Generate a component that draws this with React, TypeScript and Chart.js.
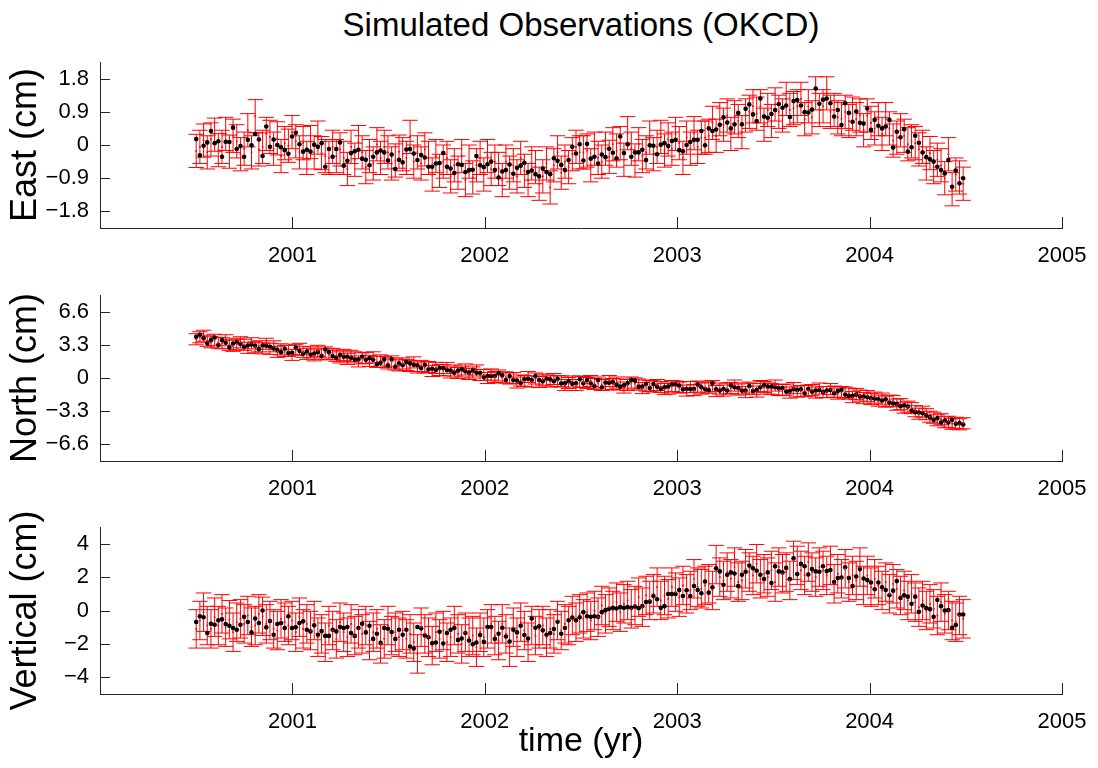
import React, { useEffect, useRef } from 'react';
import { Chart, registerables } from 'chart.js';

Chart.register(...registerables);

// ---- data ----
const startYear = 2000.5;
const weekInYears = 7 / 365.25;

const xTickYears = [2001, 2002, 2003, 2004, 2005];
const eastTicks = [-1.8, -0.9, 0, 0.9, 1.8];
const northTicks = [-6.6, -3.3, 0, 3.3, 6.6];
const vertTicks = [-4, -2, 0, 2, 4];

const eastSigma = 0.45;
const northSigma = 0.55;
const vertSigma = 1.15;

// black dots (observations)
const eastObs = [
  0.16, -0.28, -0.02, 0.07, 0.38, 0.05, 0.10, -0.32, 0.09, 0.08,
  0.47, -0.11, -0.03, -0.32, 0.14, -0.01, 0.30, 0.15, -0.30, 0.50,
  -0.05, 0.15, 0.00, -0.06, -0.14, -0.24, 0.23, 0.33, 0.02, -0.18,
  -0.13, -0.18, 0.01, -0.05, 0.05, -0.59, -0.11, -0.32, -0.11, 0.07,
  -0.56, -0.43, -0.22, -0.17, -0.13, -0.37, -0.40, -0.55, -0.32, -0.20,
  -0.15, -0.20, -0.42, -0.26, -0.65, -0.40,
  -0.47, -0.12, -0.11, -0.23, -0.41, -0.27, -0.34, -0.59, -0.59, -0.50,
  -0.49, -0.22, -0.59, -0.64, -0.76, -0.52, -0.54, -0.73, -0.68, -0.67,
  -0.30, -0.55, -0.60, -0.52, -0.45, -0.68, -0.88, -0.72, -0.68, -0.53,
  -0.78, -0.62, -0.56, -0.48, -0.73, -0.69, -0.79, -0.85, -0.64, -0.73,
  -0.79, -0.36, -0.43, -0.54, -0.68, -0.41, -0.05, -0.23, 0.02, -0.42,
  0.03, -0.37, -0.32, -0.50, -0.26, -0.33, -0.10, -0.21, -0.36, 0.23,
  -0.22, 0.02, -0.32, -0.20, -0.20, -0.13, -0.41, -0.01, -0.02, -0.25,
  0.01, 0.05,
  -0.03, 0.11, 0.14, -0.14, -0.17, 0.00, 0.08, 0.14, 0.14, 0.38,
  -0.01, 0.45, 0.38, 0.42, 0.55, 0.75, 0.61, 0.45, 0.56, 0.87,
  0.56, 0.98, 1.10, 0.83, 0.65, 1.26, 0.77, 0.74, 0.84, 0.95,
  1.11, 1.01, 1.07, 0.76, 1.19, 1.22, 1.07, 0.89, 0.88, 0.96,
  1.53, 1.12, 1.23, 1.26, 1.13, 0.77, 0.95, 0.54, 1.13, 0.87,
  0.63, 0.91, 0.60, 0.58, 0.99, 0.41, 0.68, 0.52, 0.45, 0.50,
  0.68, -0.07, 0.36, 0.21, 0.43, -0.18, -0.06, 0.25, 0.06, -0.20,
  -0.33, -0.39, -0.45, -0.59, -0.68, -0.77, -0.41, -1.13, -0.69, -1.04,
  -0.90,
];

// red error-bar centres (simulated values)
const eastSim = [
  -0.16, -0.05, 0.12, -0.20, 0.15, 0.28, -0.14, -0.05, 0.30, -0.18,
  0.25, 0.10, -0.25, -0.10, 0.40, -0.20, 0.78, -0.12, -0.05, 0.30,
  0.22, -0.10, 0.18, -0.30, 0.05, -0.02, 0.35, 0.10, -0.20, 0.05,
  -0.35, 0.08, -0.20, 0.20, -0.22, -0.30, -0.35, -0.05, -0.30, -0.12,
  -0.35, -0.65, -0.05, -0.40, 0.08, -0.20, -0.60, -0.30, -0.50, 0.02,
  -0.35, -0.05, -0.20, -0.50, -0.42, -0.18, -0.25, -0.35, 0.22, -0.45,
  -0.20, -0.50, -0.12, -0.35, -0.80, -0.30, -0.70, -0.45, -0.35, -0.85,
  -0.55, -0.75, -0.30, -0.95, -0.45, -0.88, -0.55, -0.35, -0.80, -0.30,
  -0.65, -0.45, -0.65, -0.95, -0.45, -0.75, -0.55, -0.85, -0.35, -0.70,
  -0.95, -0.50, -0.60, -1.05, -0.85, -0.50, -1.15, -0.55, -0.20, -0.75,
  -0.45, -0.60, -0.25, -0.05, -0.20, -0.20, -0.15, -0.55, -0.10, -0.35,
  -0.45, -0.10, -0.32, 0.02, -0.15, 0.05, -0.40, 0.32, -0.10, -0.42,
  0.02, -0.30, -0.20, 0.20, -0.25, -0.05, 0.22, -0.15, 0.15, -0.10,
  0.30, 0.05, -0.35, 0.20, -0.10, 0.32, -0.05, 0.20, 0.20, 0.25,
  0.60, 0.25, 0.70, 0.55, 0.80, 0.30, 0.75, 0.65, 0.35, 0.80,
  0.90, 1.05, 0.85, 1.05, 0.55, 0.95, 0.65, 1.10, 0.90, 0.80,
  1.25, 0.95, 1.00, 1.05, 1.25, 0.70, 1.05, 0.75, 1.40, 0.95,
  1.05, 1.40, 0.90, 0.95, 0.75, 0.70, 0.90, 0.65, 0.85, 0.70,
  0.80, 0.40, 0.80, 0.60, 0.45, 0.70, 0.30, 0.70, 0.45, 0.12,
  0.20, 0.40, 0.25, 0.02, 0.10, 0.05, -0.12, -0.05, -0.50, -0.22,
  -0.60, -0.40, -0.55, -0.90, -0.25, -1.20, -0.80, -0.88, -1.05,
];

const northObs = [
  4.09, 4.29, 3.96, 3.43, 3.76, 4.03, 3.27, 3.76, 3.50, 3.04,
  3.43, 3.56, 3.37, 3.10, 3.23, 3.33, 3.20, 2.87, 3.23, 3.20,
  3.10, 2.94, 2.80, 2.57, 2.90, 2.48, 2.50, 3.04, 2.70, 2.41,
  2.64, 2.34, 2.44, 2.57, 2.18, 2.84, 2.57, 2.18, 2.01, 2.28,
  2.11, 2.11, 2.01, 1.85, 1.85, 2.11, 1.82, 1.98, 1.82, 1.39,
  1.52, 1.85, 1.26, 1.85, 1.12, 1.45,
  1.26, 1.58, 1.45, 1.32, 1.26, 0.99, 1.32, 0.86, 0.92, 0.79,
  0.99, 0.99, 0.79, 0.73, 0.53, 0.73, 0.86, 0.66, 0.53, 0.73,
  0.53, 0.50, 0.07, 0.20, 0.20, 0.20, 0.46, 0.26, -0.20, 0.20,
  -0.20, -0.26, -0.50, -0.13, -0.07, -0.20, 0.20, -0.20, -0.33, -0.07,
  -0.13, -0.33, -0.07, -0.53, -0.53, -0.33, -0.56, -0.53, -0.13, -0.53,
  -0.20, -0.53, -0.79, -0.20, -0.92, -0.46, -0.46, -0.40, -0.66, -0.86,
  -0.73, -0.53, -0.20, -0.26, -0.86, -0.86, -0.59, -0.99, -0.59, -0.86,
  -1.06, -0.92,
  -0.86, -0.66, -0.63, -0.76, -1.12, -1.09, -1.09, -1.09, -0.66, -0.92,
  -1.09, -1.19, -0.53, -1.12, -1.25, -1.09, -1.25, -0.73, -0.92, -0.99,
  -1.25, -1.25, -0.79, -1.29, -1.19, -0.92, -0.69, -0.86, -0.86, -0.92,
  -1.02, -0.99, -1.35, -1.29, -1.12, -1.19, -1.12, -1.52, -1.09, -1.35,
  -1.25, -1.19, -1.39, -1.25, -1.19, -1.52, -1.29, -1.19, -1.65, -1.78,
  -1.78, -1.65, -1.85, -1.85, -1.91, -2.01, -2.05, -2.11, -2.24, -2.11,
  -2.44, -2.51, -2.57, -2.80, -2.71, -2.84, -3.24, -3.37, -3.43, -3.50,
  -3.70, -3.89, -4.16, -3.99, -4.42, -4.22, -4.42, -4.16, -4.55, -4.49,
  -4.62,
];

const northSim = [
  3.85, 4.05, 4.20, 3.70, 3.55, 3.80, 3.50, 3.45, 3.75, 3.30,
  3.20, 3.40, 3.55, 3.30, 3.00, 3.45, 3.05, 3.15, 2.95, 3.40,
  2.90, 3.15, 2.60, 2.85, 2.70, 2.70, 2.30, 2.80, 2.90, 2.60,
  2.40, 2.55, 2.25, 2.70, 2.40, 2.55, 2.35, 2.40, 2.20, 2.05,
  2.30, 1.90, 2.20, 2.05, 1.65, 1.95, 2.00, 1.70, 2.05, 1.60,
  1.75, 1.60, 1.45, 1.65, 1.35, 1.25,
  1.45, 1.30, 1.20, 1.55, 1.05, 1.20, 1.05, 1.10, 0.70, 1.00,
  0.80, 0.75, 1.00, 0.55, 0.75, 0.50, 0.65, 0.85, 0.40, 0.55,
  0.75, 0.30, 0.30, 0.00, 0.35, 0.10, 0.25, 0.05, 0.05, -0.05,
  0.00, -0.45, -0.25, -0.30, 0.10, -0.35, -0.05, -0.40, -0.15, -0.25,
  -0.35, -0.10, -0.30, -0.35, -0.70, -0.50, -0.35, -0.70, -0.35, -0.40,
  -0.50, -0.30, -0.60, -0.45, -0.70, -0.65, -0.30, -0.60, -0.45, -0.65,
  -0.95, -0.70, -0.45, -0.55, -0.65, -1.00, -0.75, -0.80, -0.85, -0.70,
  -0.90, -1.10,
  -1.05, -0.80, -0.85, -0.95, -0.90, -1.25, -0.90, -1.20, -0.85, -1.05,
  -0.95, -0.95, -0.80, -1.30, -1.05, -1.25, -1.05, -1.00, -0.75, -1.15,
  -1.05, -1.40, -0.95, -1.10, -1.35, -0.80, -0.90, -1.05, -1.10, -0.75,
  -1.20, -1.20, -1.15, -1.45, -1.00, -1.35, -1.30, -1.30, -1.25, -1.20,
  -1.45, -1.05, -1.40, -1.40, -1.10, -1.35, -1.55, -1.40, -1.45, -1.55,
  -1.90, -1.60, -1.75, -2.00, -1.80, -2.10, -1.95, -2.25, -2.05, -2.35,
  -2.25, -2.30, -2.65, -2.60, -2.95, -2.85, -3.00, -3.30, -3.55, -3.35,
  -3.60, -3.85, -3.95, -4.20, -4.10, -4.40, -4.35, -4.55, -4.45, -4.60,
  -4.50,
];

const vertObs = [
  -0.69, -0.34, -0.40, -1.35, -0.79, -0.85, -0.59, -0.53, -0.81, -0.91,
  -1.05, -1.15, -0.85, -0.38, -0.69, -1.31, -0.48, -0.75, 0.00, -1.01,
  -0.63, -1.45, -0.81, -0.75, -1.05, -0.34, -1.05, -1.01, -0.75, -0.65,
  -1.15, -1.25, -0.89, -1.45, -1.23, -1.52, -1.52, -1.15, -1.25, -0.99,
  -1.05, -0.99, -1.35, -1.52, -1.05, -0.79, -1.31, -0.91, -1.70, -1.39,
  -1.94, -1.05, -1.09, -1.29, -1.70, -1.15,
  -1.45, -1.15, -2.16, -2.28, -0.99, -1.07, -1.49, -1.60, -1.96, -1.92,
  -1.27, -1.98, -1.35, -1.15, -1.05, -1.76, -1.68, -1.35, -1.80, -2.02,
  -1.92, -1.47, -1.88, -0.99, -0.99, -1.70, -1.39, -1.03, -1.56, -1.86,
  -1.15, -1.31, -0.91, -1.47, -1.68, -0.48, -1.03, -0.95, -1.19, -1.45,
  -1.35, -1.11, -0.67, -1.39, -1.05, -0.59, -0.42, -0.59, -0.40, -0.10,
  -0.34, -0.38, -0.34, -0.38, -0.10, 0.02, 0.10, 0.16, 0.12, 0.20,
  0.16, 0.20, 0.16, 0.24, 0.14, 0.26, 0.51, 0.53, 0.87, 0.67,
  0.16, 0.26,
  0.99, 0.99, 0.99, 1.23, 0.87, 1.21, 0.87, 1.47, 1.23, 1.03,
  1.74, 1.07, 1.39, 2.53, 2.34, 1.54, 2.14, 2.28, 2.22, 1.47,
  2.14, 2.32, 2.69, 2.53, 2.38, 2.14, 1.88, 2.28, 1.64, 2.65,
  2.34, 2.28, 2.55, 1.88, 3.13, 2.18, 2.79, 2.65, 2.16, 2.48,
  2.34, 2.32, 2.65, 2.36, 2.42, 1.70, 1.94, 1.98, 2.59, 1.94,
  1.47, 2.04, 2.48, 1.92, 1.82, 1.68, 1.27, 1.68, 1.39, 1.23,
  0.91, 1.19, 1.76, 0.75, 0.91, 0.83, 0.40, 0.83, -0.08, 0.30,
  0.14, 0.08, -0.38, 0.63, 0.26, 0.00, 0.02, -1.03, -0.87, -0.24,
  -0.24,
];

const vertSim = [
  -1.10, -0.60, -0.10, -0.90, -1.10, -0.40, -0.90, -0.20, -1.00, -0.55,
  -1.30, -0.70, -0.50, -0.80, -0.30, -1.00, -0.90, -0.20, -0.35, -0.80,
  -0.60, -1.10, -1.20, -0.50, -0.70, -0.90, -0.60, -1.30, -0.40, -1.10,
  -0.80, -1.20, -0.60, -1.60, -1.40, -1.90, -0.90, -1.20, -1.70, -0.70,
  -1.30, -1.60, -0.80, -1.50, -1.10, -1.40, -0.90, -1.80, -1.30, -1.10,
  -2.00, -1.70, -0.90, -1.50, -1.30, -1.60,
  -1.20, -1.70, -1.40, -1.90, -2.60, -1.00, -1.40, -1.60, -2.10, -1.30,
  -1.70, -1.20, -1.90, -1.60, -0.90, -1.40, -2.00, -1.30, -1.60, -1.50,
  -2.20, -1.30, -1.60, -1.10, -0.80, -1.50, -1.80, -0.80, -1.40, -2.20,
  -1.00, -1.60, -0.70, -1.20, -1.90, -0.90, -1.50, -1.10, -0.90, -1.60,
  -1.10, -1.40, -0.60, -1.20, -0.80, -0.90, -0.30, -0.70, -0.20, -0.50,
  -0.10, -0.60, 0.00, -0.40, 0.30, -0.20, 0.20, 0.00, 0.50, -0.10,
  0.40, 0.60, 0.10, 0.30, 0.80, 0.20, 0.90, 0.60, 1.00, 1.40,
  0.60, 0.90,
  0.70, 1.40, 1.10, 0.80, 1.50, 1.00, 1.20, 1.90, 1.40, 1.30,
  1.50, 1.60, 1.20, 2.75, 2.00, 1.80, 2.30, 1.90, 2.60, 1.70,
  1.80, 2.50, 2.30, 2.10, 2.80, 1.90, 2.20, 2.00, 2.40, 1.70,
  2.60, 2.20, 2.30, 1.80, 3.00, 2.70, 2.40, 2.10, 2.90, 2.30,
  2.00, 2.60, 2.40, 2.10, 2.70, 1.60, 2.20, 1.90, 2.50, 1.70,
  2.10, 1.80, 2.60, 1.50, 2.10, 1.40, 1.90, 1.50, 1.20, 1.70,
  1.00, 1.60, 1.30, 0.90, 1.20, 0.60, 1.00, 0.50, 0.20, 0.60,
  0.00, 0.40, 0.10, -0.30, 0.50, -0.20, 0.00, -0.60, -0.70, -0.30,
  -0.50,
];

// ---- styling ----
const FONT = '"Liberation Sans", Arial, Helvetica, sans-serif';
const AXIS_COLOR = '#262626';
const CAP_HALF_YEARS = 0.04;

function fmtTick(v: number): string {
  if (v === 0) return '0';
  return v < 0 ? '\u2212' + String(Math.abs(v)) : String(v);
}

type PanelProps = {
  obs: number[];
  sim: number[];
  sigma: number;
  yTicks: number[];
  yTitle: string;
  xTitle?: string;
  top: number;
  height: number;
  padTop: number;
  xAxisHeight: number;
};

function Panel(props: PanelProps) {
  const ref = useRef<HTMLCanvasElement | null>(null);
  useEffect(() => {
    const canvas = ref.current;
    if (!canvas) return;
    const { obs, sim, sigma, yTicks, yTitle, xTitle, padTop, xAxisHeight } = props;
    const times = obs.map((_, i) => startYear + i * weekInYears);
    const yLimit = Math.max(...yTicks) * 1.25;

    const errorBarPlugin = {
      id: 'errorBars',
      beforeDatasetsDraw(chart: any) {
        const { ctx, scales } = chart;
        const xs = scales.x;
        const ys = scales.y;
        ctx.save();
        ctx.strokeStyle = '#ff0000';
        ctx.lineWidth = 1;
        ctx.beginPath();
        sim.forEach((c, i) => {
          const t = times[i];
          const px = xs.getPixelForValue(t);
          const pl = xs.getPixelForValue(t - CAP_HALF_YEARS);
          const pr = xs.getPixelForValue(t + CAP_HALF_YEARS);
          const pt = ys.getPixelForValue(c + sigma);
          const pb = ys.getPixelForValue(c - sigma);
          ctx.moveTo(px, pt);
          ctx.lineTo(px, pb);
          ctx.moveTo(pl, pt);
          ctx.lineTo(pr, pt);
          ctx.moveTo(pl, pb);
          ctx.lineTo(pr, pb);
        });
        ctx.stroke();
        ctx.restore();
      },
    };

    const innerTicksPlugin = {
      id: 'innerTicks',
      afterDraw(chart: any) {
        const { ctx, chartArea, scales } = chart;
        ctx.save();
        ctx.strokeStyle = AXIS_COLOR;
        ctx.lineWidth = 1;
        ctx.beginPath();
        for (const t of scales.y.ticks) {
          const py = Math.round(scales.y.getPixelForValue(t.value)) + 0.5;
          ctx.moveTo(chartArea.left, py);
          ctx.lineTo(chartArea.left + 10, py);
        }
        for (const t of scales.x.ticks) {
          const px = Math.round(scales.x.getPixelForValue(t.value)) + 0.5;
          ctx.moveTo(px, chartArea.bottom);
          ctx.lineTo(px, chartArea.bottom - 11);
        }
        ctx.stroke();
        ctx.restore();
      },
    };

    const chart = new Chart(canvas, {
      type: 'scatter',
      data: {
        datasets: [
          {
            data: sim.map((v, i) => ({ x: times[i], y: v })),
            pointRadius: 1.2,
            pointStyle: 'rect',
            backgroundColor: '#ff0000',
            borderWidth: 0,
          },
          {
            data: obs.map((v, i) => ({ x: times[i], y: v })),
            pointRadius: 2.3,
            backgroundColor: '#000000',
            borderWidth: 0,
          },
        ],
      },
      options: {
        animation: false,
        responsive: false,
        devicePixelRatio: 1,
        layout: { padding: { top: padTop, right: 36, left: 0, bottom: 0 } },
        plugins: {
          legend: { display: false },
          tooltip: { enabled: false },
          title: { display: false },
        },
        scales: {
          x: {
            type: 'linear',
            min: 2000,
            max: 2005,
            afterBuildTicks: (s: any) => {
              s.ticks = xTickYears.map((v) => ({ value: v }));
            },
            afterFit: (s: any) => {
              s.height = xAxisHeight;
            },
            grid: { display: false },
            border: { display: true, color: AXIS_COLOR, width: 1 },
            ticks: {
              padding: 7,
              color: '#000',
              autoSkip: false,
              maxRotation: 0,
              font: { family: FONT, size: 22 },
              callback: (v: any) => String(v),
            },
            title: xTitle
              ? {
                  display: true,
                  text: xTitle,
                  color: '#000',
                  font: { family: FONT, size: 34 },
                  padding: { top: 0, bottom: 6 },
                }
              : { display: false },
          },
          y: {
            type: 'linear',
            min: -yLimit,
            max: yLimit,
            afterBuildTicks: (s: any) => {
              s.ticks = yTicks.map((v) => ({ value: v }));
            },
            afterFit: (s: any) => {
              s.width = 100;
            },
            grid: { display: false },
            border: { display: true, color: AXIS_COLOR, width: 1 },
            ticks: {
              padding: 3,
              color: '#000',
              autoSkip: false,
              font: { family: FONT, size: 22 },
              callback: (v: any) => fmtTick(Number(v)),
            },
            title: {
              display: true,
              text: yTitle,
              color: '#000',
              font: { family: FONT, size: 36 },
              padding: { top: 4, bottom: 0 },
            },
          },
        },
      },
      plugins: [errorBarPlugin, innerTicksPlugin],
    } as any);
    return () => chart.destroy();
  }, []);
  return (
    <canvas
      ref={ref}
      width={1098}
      height={props.height}
      style={{ position: 'absolute', left: 0, top: props.top, width: 1098, height: props.height }}
    />
  );
}

export default function App() {
  return (
    <div style={{ position: 'absolute', left: 0, top: 0, width: 1098, height: 768, background: '#fff', overflow: 'hidden' }}>
      <div
        style={{
          position: 'absolute',
          left: 0,
          width: 1162,
          top: 8,
          textAlign: 'center',
          fontFamily: FONT,
          fontSize: 33,
          lineHeight: '33px',
          color: '#000',
          whiteSpace: 'nowrap',
        }}
      >
        Simulated Observations (OKCD)
      </div>
      <Panel obs={eastObs} sim={eastSim} sigma={eastSigma} yTicks={eastTicks} yTitle="East (cm)" top={42} height={226} padTop={20} xAxisHeight={40} />
      <Panel obs={northObs} sim={northSim} sigma={northSigma} yTicks={northTicks} yTitle="North (cm)" top={275} height={226} padTop={20} xAxisHeight={40} />
      <Panel obs={vertObs} sim={vertSim} sigma={vertSigma} yTicks={vertTicks} yTitle="Vertical (cm)" xTitle="time (yr)" top={507} height={261} padTop={20} xAxisHeight={74} />
    </div>
  );
}
